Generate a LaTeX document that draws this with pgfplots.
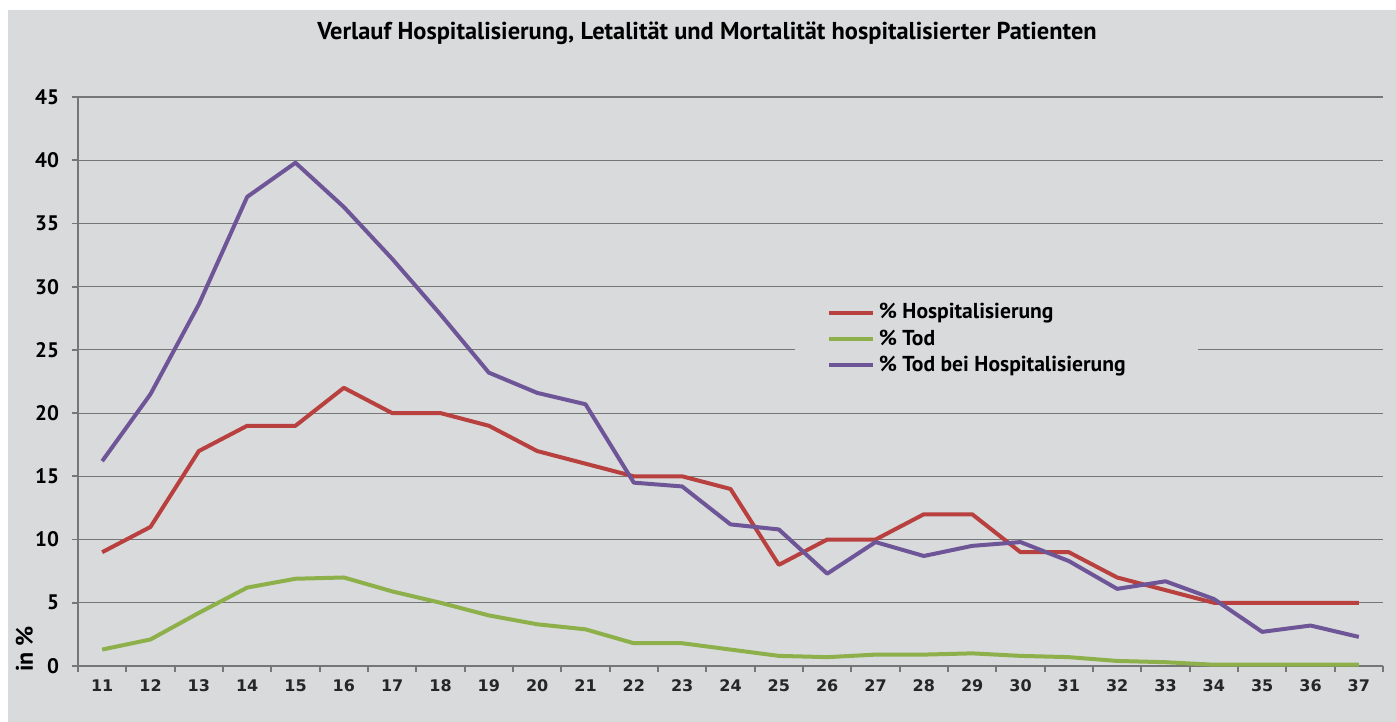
\documentclass[border=0pt]{standalone}
\usepackage{pgfplots}
\pgfplotsset{compat=1.18}
\usepackage{fontspec}
\setmainfont{PT Sans}
\newfontfamily\dejavu{DejaVu Sans}
\definecolor{bg}{HTML}{D9DADC}
\definecolor{cred}{HTML}{B8403E}
\definecolor{cgreen}{HTML}{8DB04A}
\definecolor{cpurple}{HTML}{6E5597}
\definecolor{gridc}{HTML}{767676}
\begin{document}
\begin{tikzpicture}
\path[use as bounding box, fill=white] (-39pt,-28pt) rectangle (659pt,333pt);
\fill[bg] (-35pt,-28pt) rectangle (659pt,328pt);
\begin{axis}[
  at={(0,0)}, anchor=south west,
  scale only axis, width=652.5pt, height=284.5pt,
  xmin=10.5, xmax=37.5, ymin=0, ymax=45,
  xtick={11,...,37},
  minor xtick={10.5,11.5,...,37.5},
  ytick={0,5,...,45},
  axis x line*=bottom, axis y line*=left,
  axis line style={gridc, line width=0.9pt},
  x axis line style={-}, y axis line style={-},
  tick align=outside,
  major x tick style={draw=none},
  minor x tick style={gridc, line width=0.9pt},
  minor tick length=3pt,
  major tick length=3pt,
  y tick style={gridc, line width=0.9pt},
  ymajorgrids, major grid style={gridc, line width=0.6pt},
  /pgf/number format/assume math mode=true,
  xticklabel style={font=\dejavu\bfseries\fontsize{8}{9}\selectfont, text=black!85, yshift=-0.5pt},
  yticklabel style={font=\bfseries\fontsize{10.5}{12}\selectfont, xshift=-3pt},
  ylabel={in \%},
  ylabel style={at={(axis description cs:-0.041,0.03)}, anchor=center, font=\bfseries\fontsize{12}{14}\selectfont},
  title={Verlauf Hospitalisierung, Letalität und Mortalität hospitalisierter Patienten},
  title style={at={(axis description cs:0.482,1.091)}, anchor=center, yshift=0pt, font=\bfseries\fontsize{12.2}{14}\selectfont},
  legend style={at={(0.549,0.652)}, anchor=north west, fill=bg, draw=none,
    font=\bfseries\fontsize{10.8}{12}\selectfont, row sep=0pt, inner xsep=16pt, inner ysep=2pt},
  legend cell align=left,
  legend image code/.code={\draw[#1, line width=2pt] (0pt,0pt) -- (22pt,0pt);},
  every axis plot/.append style={line width=2pt, line join=round},
]
\addplot[cred, mark=none] coordinates {
(11,9) (12,11) (13,17) (14,19) (15,19) (16,22) (17,20) (18,20) (19,19) (20,17)
(21,16) (22,15) (23,15) (24,14) (25,8) (26,10) (27,10) (28,12) (29,12) (30,9)
(31,9) (32,7) (33,6) (34,5) (35,5) (36,5) (37,5)};
\addlegendentry{\% Hospitalisierung}
\addplot[cgreen, mark=none] coordinates {
(11,1.3) (12,2.1) (13,4.2) (14,6.2) (15,6.9) (16,7.0) (17,5.9) (18,5.0) (19,4.0) (20,3.3)
(21,2.9) (22,1.8) (23,1.8) (24,1.3) (25,0.8) (26,0.7) (27,0.9) (28,0.9) (29,1.0) (30,0.8)
(31,0.7) (32,0.4) (33,0.3) (34,0.1) (35,0.1) (36,0.1) (37,0.1)};
\addlegendentry{\% Tod}
\addplot[cpurple, mark=none] coordinates {
(11,16.2) (12,21.5) (13,28.6) (14,37.1) (15,39.8) (16,36.3) (17,32.2) (18,27.8) (19,23.2) (20,21.6)
(21,20.7) (22,14.5) (23,14.2) (24,11.2) (25,10.8) (26,7.3) (27,9.8) (28,8.7) (29,9.5) (30,9.8)
(31,8.3) (32,6.1) (33,6.7) (34,5.3) (35,2.7) (36,3.2) (37,2.3)};
\addlegendentry{\% Tod bei Hospitalisierung\rule{18pt}{0pt}}
\end{axis}
\end{tikzpicture}
\end{document}
